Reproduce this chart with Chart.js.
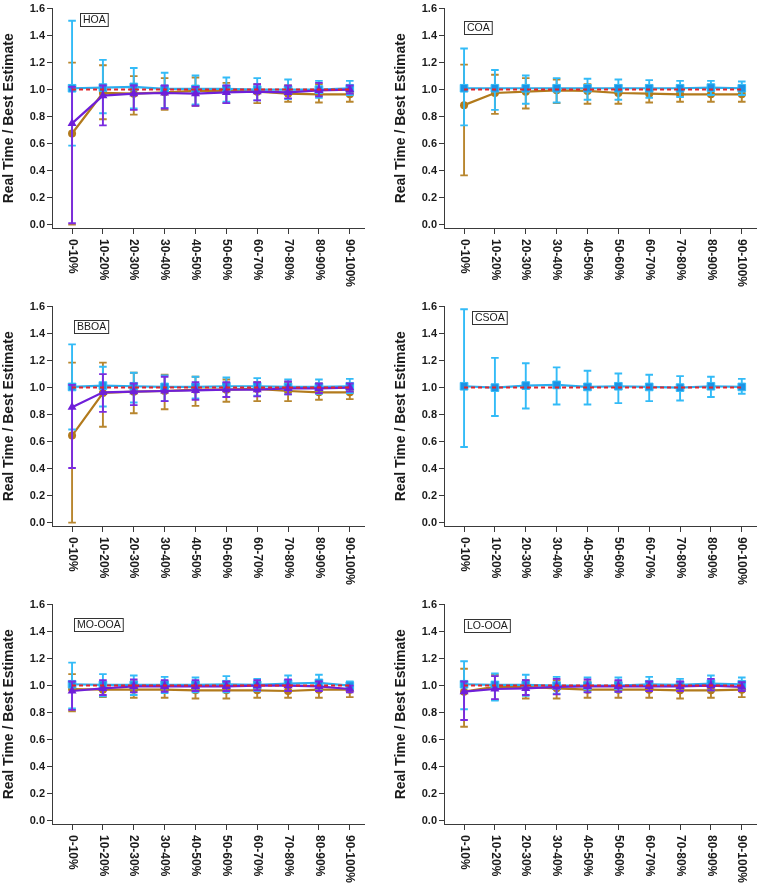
<!DOCTYPE html>
<html>
<head>
<meta charset="utf-8">
<script src="https://cdn.jsdelivr.net/npm/chart.js@4/dist/chart.umd.min.js"></script>
<style>
  html, body { margin: 0; padding: 0; background: #ffffff; }
  #wrap { position: relative; width: 763px; height: 886px; overflow: hidden; background: #ffffff; }
  canvas { position: absolute; }
</style>
</head>
<body>
<div id="wrap"></div>
<script>
// ---------------- DATA ----------------
const categories = ['0-10%', '10-20%', '20-30%', '30-40%', '40-50%', '50-60%', '60-70%', '70-80%', '80-90%', '90-100%'];
const yTickValues = [0.0, 0.2, 0.4, 0.6, 0.8, 1.0, 1.2, 1.4, 1.6];
const yAxisTitle = 'Real Time / Best Estimate';
const referenceValue = 1.0;

// HOA
const hoaBrown    = [0.675, 0.975, 0.97, 0.98, 0.99, 0.99, 0.985, 0.97, 0.965, 0.965];
const hoaBrownHi  = [1.20, 1.18, 1.10, 1.085, 1.09, 1.05, 1.04, 1.03, 1.04, 1.02];
const hoaBrownLo  = [0.00, 0.78, 0.815, 0.85, 0.88, 0.90, 0.90, 0.91, 0.905, 0.91];
const hoaPurple   = [0.75, 0.955, 0.97, 0.975, 0.97, 0.98, 0.985, 0.98, 0.995, 1.0];
const hoaPurpleHi = [1.02, 1.03, 1.03, 1.03, 1.02, 1.03, 1.04, 1.03, 1.05, 1.03];
const hoaPurpleLo = [0.01, 0.735, 0.85, 0.86, 0.88, 0.90, 0.92, 0.935, 0.95, 0.97];
const hoaBlue     = [1.01, 1.015, 1.02, 1.005, 1.005, 1.005, 1.0, 1.0, 1.0, 1.01];
const hoaBlueHi   = [1.51, 1.22, 1.16, 1.125, 1.105, 1.09, 1.085, 1.075, 1.065, 1.065];
const hoaBlueLo   = [0.585, 0.825, 0.86, 0.865, 0.89, 0.91, 0.92, 0.93, 0.94, 0.96];

// COA
const coaBrown    = [0.885, 0.975, 0.985, 0.995, 0.99, 0.975, 0.97, 0.965, 0.965, 0.965];
const coaBrownHi  = [1.185, 1.11, 1.085, 1.075, 1.04, 1.035, 1.03, 1.025, 1.025, 1.02];
const coaBrownLo  = [0.365, 0.82, 0.86, 0.90, 0.895, 0.895, 0.905, 0.91, 0.91, 0.91];
const coaBlue     = [1.01, 1.01, 1.01, 1.01, 1.01, 1.01, 1.01, 1.01, 1.015, 1.01];
const coaBlueHi   = [1.305, 1.145, 1.105, 1.085, 1.08, 1.075, 1.07, 1.065, 1.065, 1.06];
const coaBlueLo   = [0.735, 0.85, 0.895, 0.905, 0.925, 0.925, 0.94, 0.945, 0.96, 0.96];

// BBOA
const bboaBrown    = [0.645, 0.96, 0.97, 0.975, 0.985, 0.985, 0.99, 0.975, 0.965, 0.965];
const bboaBrownHi  = [1.185, 1.185, 1.11, 1.095, 1.08, 1.06, 1.04, 1.04, 1.03, 1.02];
const bboaBrownLo  = [0.00, 0.71, 0.81, 0.84, 0.865, 0.895, 0.90, 0.90, 0.91, 0.915];
const bboaPurple   = [0.855, 0.965, 0.97, 0.975, 0.98, 0.985, 0.985, 0.995, 0.995, 1.0];
const bboaPurpleHi = [1.02, 1.10, 1.03, 1.08, 1.04, 1.04, 1.04, 1.045, 1.03, 1.03];
const bboaPurpleLo = [0.405, 0.82, 0.87, 0.90, 0.91, 0.93, 0.935, 0.95, 0.96, 0.97];
const bboaBlue     = [1.005, 1.015, 1.01, 1.005, 1.005, 1.01, 1.01, 1.005, 1.005, 1.01];
const bboaBlueHi   = [1.32, 1.155, 1.11, 1.09, 1.08, 1.075, 1.07, 1.06, 1.06, 1.065];
const bboaBlueLo   = [0.69, 0.86, 0.89, 0.90, 0.92, 0.93, 0.94, 0.95, 0.955, 0.96];

// CSOA
const csoaBlue   = [1.01, 1.0, 1.015, 1.02, 1.005, 1.01, 1.005, 1.0, 1.01, 1.005];
const csoaBlueHi = [1.58, 1.22, 1.18, 1.15, 1.125, 1.105, 1.095, 1.085, 1.08, 1.065];
const csoaBlueLo = [0.56, 0.79, 0.845, 0.875, 0.875, 0.885, 0.90, 0.905, 0.93, 0.955];

// MO-OOA
const moBrown    = [0.975, 0.97, 0.97, 0.97, 0.965, 0.965, 0.965, 0.96, 0.97, 0.97];
const moBrownHi  = [1.085, 1.02, 1.03, 1.03, 1.02, 1.02, 1.02, 1.02, 1.03, 1.02];
const moBrownLo  = [0.81, 0.915, 0.91, 0.91, 0.905, 0.905, 0.91, 0.91, 0.91, 0.915];
const moPurple   = [0.96, 0.98, 0.995, 0.995, 0.995, 0.995, 1.0, 1.0, 0.995, 0.975];
const moPurpleHi = [1.03, 1.04, 1.045, 1.04, 1.04, 1.03, 1.04, 1.045, 1.03, 1.0];
const moPurpleLo = [0.82, 0.93, 0.95, 0.955, 0.96, 0.96, 0.965, 0.96, 0.96, 0.95];
const moBlue     = [1.01, 1.005, 1.005, 1.005, 1.005, 1.01, 1.005, 1.015, 1.02, 1.0];
const moBlueHi   = [1.17, 1.085, 1.075, 1.065, 1.06, 1.07, 1.05, 1.075, 1.08, 1.03];
const moBlueLo   = [0.83, 0.92, 0.93, 0.945, 0.95, 0.95, 0.96, 0.96, 0.965, 0.97];

// LO-OOA
const loBrown    = [0.955, 0.99, 0.99, 0.98, 0.97, 0.97, 0.97, 0.965, 0.965, 0.97];
const loBrownHi  = [1.125, 1.08, 1.04, 1.04, 1.03, 1.03, 1.03, 1.025, 1.02, 1.02];
const loBrownLo  = [0.695, 0.895, 0.905, 0.905, 0.91, 0.91, 0.91, 0.905, 0.91, 0.915];
const loPurple   = [0.955, 0.975, 0.98, 0.99, 0.995, 0.995, 0.995, 0.995, 1.0, 0.99];
const loPurpleHi = [1.03, 1.07, 1.04, 1.05, 1.045, 1.04, 1.03, 1.03, 1.05, 1.025];
const loPurpleLo = [0.745, 0.90, 0.93, 0.935, 0.95, 0.955, 0.96, 0.96, 0.965, 0.96];
const loBlue     = [1.01, 1.005, 1.005, 1.0, 1.0, 1.0, 1.01, 1.005, 1.015, 1.01];
const loBlueHi   = [1.18, 1.09, 1.08, 1.065, 1.06, 1.06, 1.065, 1.05, 1.075, 1.06];
const loBlueLo   = [0.825, 0.89, 0.925, 0.94, 0.955, 0.955, 0.96, 0.96, 0.965, 0.965];

// ---------------- PANELS ----------------
const panels = [
  { name: 'HOA',    col: 0, row: 0, labelAt: [0.25, 1.565],
    brown: [hoaBrown, hoaBrownHi, hoaBrownLo], purple: [hoaPurple, hoaPurpleHi, hoaPurpleLo], blue: [hoaBlue, hoaBlueHi, hoaBlueLo] },
  { name: 'COA',    col: 1, row: 0, labelAt: [0.0, 1.505],
    brown: [coaBrown, coaBrownHi, coaBrownLo], purple: null, blue: [coaBlue, coaBlueHi, coaBlueLo] },
  { name: 'BBOA',   col: 0, row: 1, labelAt: [0.05, 1.50],
    brown: [bboaBrown, bboaBrownHi, bboaBrownLo], purple: [bboaPurple, bboaPurpleHi, bboaPurpleLo], blue: [bboaBlue, bboaBlueHi, bboaBlueLo] },
  { name: 'CSOA',   col: 1, row: 1, labelAt: [0.26, 1.565],
    brown: null, purple: null, blue: [csoaBlue, csoaBlueHi, csoaBlueLo] },
  { name: 'MO-OOA', col: 0, row: 2, labelAt: [0.05, 1.50],
    brown: [moBrown, moBrownHi, moBrownLo], purple: [moPurple, moPurpleHi, moPurpleLo], blue: [moBlue, moBlueHi, moBlueLo] },
  { name: 'LO-OOA', col: 1, row: 2, labelAt: [0.0, 1.495],
    brown: [loBrown, loBrownHi, loBrownLo], purple: [loPurple, loPurpleHi, loPurpleLo], blue: [loBlue, loBlueHi, loBlueLo] }
];

// ---------------- STYLE ----------------
const FONT = "'Liberation Sans', Arial, Helvetica, sans-serif";
const COLORS = {
  brown: '#b27a1c', brownErr: '#b8862e',
  purple: '#6f1fd9', purpleErr: '#7a2be0',
  blueLine: '#29aef0', blueFill: '#1c93e6', blueErr: '#33bbf7',
  ref: '#e3242b', axis: '#3a3a3a', text: '#1a1a1a'
};
const CANVAS_W = 371, CANVAS_H = 298, COL_X = [0, 392], ROW_Y = [0, 298, 596];

Chart.defaults.font.family = FONT;
Chart.defaults.color = COLORS.text;

const errorBarPlugin = {
  id: 'errorBars',
  beforeDatasetDraw(chart, args) {
    const ds = chart.data.datasets[args.index];
    if (!ds.errHi) return;
    const xs = chart.scales.x, ys = chart.scales.y, ctx = chart.ctx;
    ctx.save();
    ctx.strokeStyle = ds.errColor;
    ctx.lineWidth = 1.9;
    const cap = 3.8;
    ds.errHi.forEach((hi, i) => {
      const lo = ds.errLo[i];
      const x = xs.getPixelForValue(i);
      const yh = ys.getPixelForValue(hi), yl = ys.getPixelForValue(lo);
      ctx.beginPath();
      ctx.moveTo(x, yh); ctx.lineTo(x, yl);
      ctx.moveTo(x - cap, yh); ctx.lineTo(x + cap, yh);
      ctx.moveTo(x - cap, yl); ctx.lineTo(x + cap, yl);
      ctx.stroke();
    });
    ctx.restore();
  }
};

const decorPlugin = {
  id: 'decor',
  afterDraw(chart) {
    const ctx = chart.ctx, xs = chart.scales.x, ys = chart.scales.y;
    const opts = chart.options.plugins.decor;
    // rotated category labels
    ctx.save();
    ctx.fillStyle = COLORS.text;
    ctx.font = 'bold 12px ' + FONT;
    ctx.textAlign = 'left';
    ctx.textBaseline = 'middle';
    categories.forEach((c, i) => {
      const x = xs.getPixelForValue(i);
      ctx.save();
      ctx.translate(x, xs.top + 11);
      ctx.rotate(Math.PI / 2);
      ctx.fillText(c, 0, 0);
      ctx.restore();
    });
    ctx.restore();
    // panel label box
    ctx.save();
    ctx.font = '10.5px ' + FONT;
    const w = ctx.measureText(opts.name).width + 5;
    const h = 13;
    const bx = Math.round(xs.getPixelForValue(opts.at[0])) + 0.5;
    const by = Math.round(ys.getPixelForValue(opts.at[1])) + 0.5;
    ctx.fillStyle = '#ffffff';
    ctx.fillRect(bx, by, w, h);
    ctx.strokeStyle = '#333333';
    ctx.lineWidth = 1;
    ctx.strokeRect(bx, by, w, h);
    ctx.fillStyle = COLORS.text;
    ctx.textAlign = 'center';
    ctx.textBaseline = 'middle';
    ctx.fillText(opts.name, bx + w / 2, by + h / 2 + 0.5);
    ctx.restore();
  }
};

function seriesDataset(arr, kind) {
  const [vals, hi, lo] = arr;
  const common = {
    data: vals.map((v, i) => ({ x: i, y: v })),
    errHi: hi, errLo: lo,
    borderWidth: 2.2,
    showLine: true,
    tension: 0
  };
  if (kind === 'brown') return Object.assign(common, {
    label: 'brown', order: 4, borderColor: COLORS.brown, backgroundColor: COLORS.brown,
    errColor: COLORS.brownErr, pointStyle: 'circle', pointRadius: 4, pointBorderWidth: 0 });
  if (kind === 'blue') return Object.assign(common, {
    label: 'blue', order: 3, borderColor: COLORS.blueLine, backgroundColor: COLORS.blueFill,
    errColor: COLORS.blueErr, pointStyle: 'rect', pointRadius: 5.4, pointBorderWidth: 1,
    pointBorderColor: COLORS.blueErr, pointBackgroundColor: COLORS.blueFill });
  return Object.assign(common, {
    label: 'purple', order: 2, borderColor: COLORS.purple, backgroundColor: COLORS.purple,
    errColor: COLORS.purpleErr, pointStyle: 'triangle', pointRadius: 5.2, pointBorderWidth: 0 });
}

const wrap = document.getElementById('wrap');
panels.forEach(p => {
  const cv = document.createElement('canvas');
  cv.width = CANVAS_W; cv.height = CANVAS_H;
  cv.style.left = COL_X[p.col] + 'px';
  cv.style.top = ROW_Y[p.row] + 'px';
  cv.style.width = CANVAS_W + 'px';
  cv.style.height = CANVAS_H + 'px';
  wrap.appendChild(cv);

  const datasets = [];
  if (p.brown) datasets.push(seriesDataset(p.brown, 'brown'));
  if (p.blue) datasets.push(seriesDataset(p.blue, 'blue'));
  if (p.purple) datasets.push(seriesDataset(p.purple, 'purple'));
  datasets.push({
    label: 'reference', order: 1,
    data: categories.map((c, i) => ({ x: i, y: referenceValue })),
    borderColor: COLORS.ref, borderWidth: 2, borderDash: [4, 3],
    pointRadius: 0, showLine: true, tension: 0
  });

  new Chart(cv, {
    type: 'scatter',
    data: { datasets },
    plugins: [errorBarPlugin, decorPlugin],
    options: {
      responsive: false,
      animation: false,
      devicePixelRatio: 1,
      layout: { padding: { top: 6, left: 0, right: 2, bottom: 0 } },
      plugins: {
        legend: { display: false },
        tooltip: { enabled: false },
        decor: { name: p.name, at: p.labelAt }
      },
      scales: {
        x: {
          type: 'linear', min: -0.65, max: 9.48,
          afterBuildTicks: s => { s.ticks = categories.map((c, i) => ({ value: i })); },
          ticks: { display: false },
          grid: { drawOnChartArea: false, drawTicks: true, tickLength: 6, color: COLORS.axis, lineWidth: 1 },
          border: { display: true, color: COLORS.axis, width: 1 },
          afterFit: s => { s.height = 70; }
        },
        y: {
          min: -0.025, max: 1.6,
          afterBuildTicks: s => { s.ticks = yTickValues.map(v => ({ value: v })); },
          ticks: { font: { size: 11, weight: 'bold' }, color: COLORS.text, padding: 2,
                   callback: v => Number(v).toFixed(1) },
          grid: { drawOnChartArea: false, drawTicks: true, tickLength: 5, color: COLORS.axis, lineWidth: 1 },
          border: { display: true, color: COLORS.axis, width: 1 },
          title: { display: true, text: yAxisTitle, color: COLORS.text,
                   font: { size: 14, weight: 'bold' }, padding: { top: 1, bottom: 0 } },
          afterFit: s => { s.width = 52; }
        }
      }
    }
  });
});
</script>
</body>
</html>
